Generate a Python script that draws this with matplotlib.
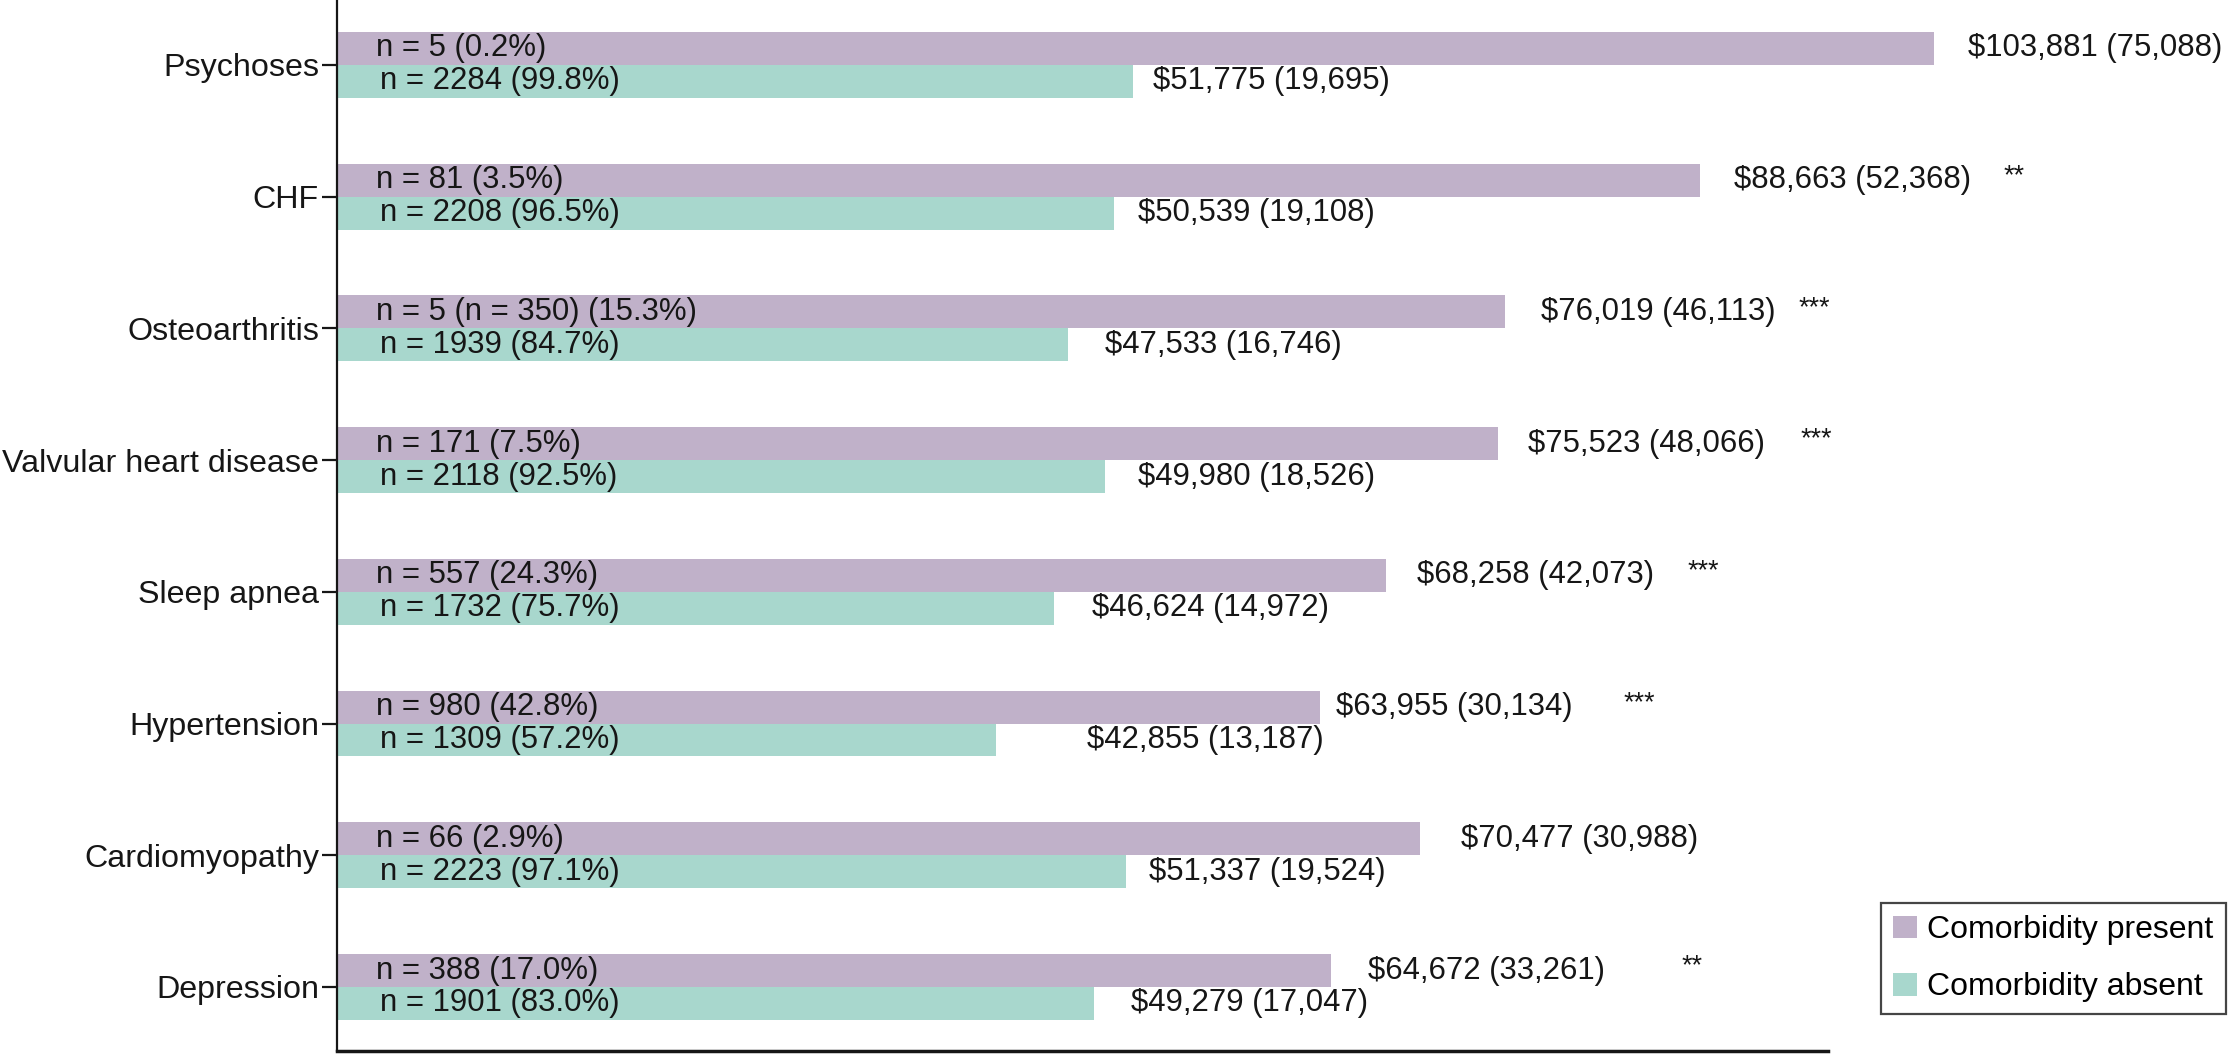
import matplotlib
matplotlib.use("Agg")
import matplotlib.pyplot as plt
from matplotlib.patches import Patch
import numpy as np

plt.rcParams['font.family'] = ['Liberation Sans', 'DejaVu Sans']

# ---- data ----
categories = ["Psychoses", "CHF", "Osteoarthritis", "Valvular heart disease",
              "Sleep apnea", "Hypertension", "Cardiomyopathy", "Depression"]
present_mean = [103881, 88663, 76019, 75523, 68258, 63955, 70477, 64672]
present_sd = [75088, 52368, 46113, 48066, 42073, 30134, 30988, 33261]
absent_mean = [51775, 50539, 47533, 49980, 46624, 42855, 51337, 49279]
absent_sd = [19695, 19108, 16746, 18526, 14972, 13187, 19524, 17047]
present_n_labels = ["n = 5 (0.2%)", "n = 81 (3.5%)", "n = 5 (n = 350) (15.3%)",
                    "n = 171 (7.5%)", "n = 557 (24.3%)", "n = 980 (42.8%)",
                    "n = 66 (2.9%)", "n = 388 (17.0%)"]
absent_n_labels = ["n = 2284 (99.8%)", "n = 2208 (96.5%)", "n = 1939 (84.7%)",
                   "n = 2118 (92.5%)", "n = 1732 (75.7%)", "n = 1309 (57.2%)",
                   "n = 2223 (97.1%)", "n = 1901 (83.0%)"]
significance = ["", "**", "***", "***", "***", "***", "", "**"]
legend_labels = ["Comorbidity present", "Comorbidity absent"]

# ---- layout (pixel offsets of annotation text from bar ends) ----
present_label_gap = [34, 34, 36, 30, 31, 16, 41, 37]
absent_label_gap = [20, 24, 37, 33, 38, 91, 23, 37]
star_gap = [0, 304, 293, 303, 301, 303, 0, 350]

c_present = "#c0b1c9"
c_absent = "#a8d7cd"
fs = 22.4
fs_cat = 23.2
fs_leg = 23.0
txt = "#161616"

W, H = 2228, 1056
fig = plt.figure(figsize=(W / 100, H / 100), dpi=100)
ax = fig.add_axes([337 / W, 5 / H, (1828 - 337) / W, 1051 / H])

y = np.arange(len(categories))
bh = 0.25
ax.barh(y - bh / 2, present_mean, height=bh, color=c_present, clip_on=False)
ax.barh(y + bh / 2, absent_mean, height=bh, color=c_absent, clip_on=False)

for i in range(len(categories)):
    yp = y[i] - bh / 2
    ya = y[i] + bh / 2
    ax.annotate(present_n_labels[i], (0, yp), xytext=(39, 0), textcoords="offset pixels",
                ha="left", va="center", fontsize=fs, color=txt, annotation_clip=False)
    ax.annotate(absent_n_labels[i], (0, ya), xytext=(43, 0), textcoords="offset pixels",
                ha="left", va="center", fontsize=fs, color=txt, annotation_clip=False)
    ax.annotate(f"${present_mean[i]:,} ({present_sd[i]:,})", (present_mean[i], yp),
                xytext=(present_label_gap[i], 0), textcoords="offset pixels",
                ha="left", va="center", fontsize=fs, color=txt, annotation_clip=False)
    ax.annotate(f"${absent_mean[i]:,} ({absent_sd[i]:,})", (absent_mean[i], ya),
                xytext=(absent_label_gap[i], 0), textcoords="offset pixels",
                ha="left", va="center", fontsize=fs, color=txt, annotation_clip=False)
    if significance[i]:
        ax.annotate(significance[i], (present_mean[i], yp),
                    xytext=(star_gap[i], 4), textcoords="offset pixels",
                    ha="left", va="center", fontsize=fs - 3, color=txt,
                    annotation_clip=False)

ax.set_xlim(0, 97000)
ax.set_ylim(len(categories) - 0.514, -0.493)
ax.set_yticks(y)
ax.set_yticklabels(categories, fontsize=fs_cat, color=txt)
ax.set_xticks([])
ax.tick_params(axis="y", length=11, width=1.6, color=txt, pad=2)
for s in ["top", "right"]:
    ax.spines[s].set_visible(False)
ax.spines["left"].set_linewidth(1.6)
ax.spines["bottom"].set_linewidth(2.5)
ax.spines["left"].set_color(txt)
ax.spines["bottom"].set_color(txt)

handles = [Patch(facecolor=c_present, edgecolor="none"),
           Patch(facecolor=c_absent, edgecolor="none")]
leg = fig.legend(handles, legend_labels, loc="upper left",
                 bbox_to_anchor=(1881 / W, 1 - 903 / H), fontsize=fs_leg,
                 frameon=True, fancybox=False, handlelength=0.75, handleheight=0.72,
                 handletextpad=0.32, borderpad=0.38, labelspacing=0.85,
                 borderaxespad=0)
leg.get_frame().set_edgecolor(txt)
leg.get_frame().set_linewidth(1.6)

fig.savefig("out.png", dpi=100)
